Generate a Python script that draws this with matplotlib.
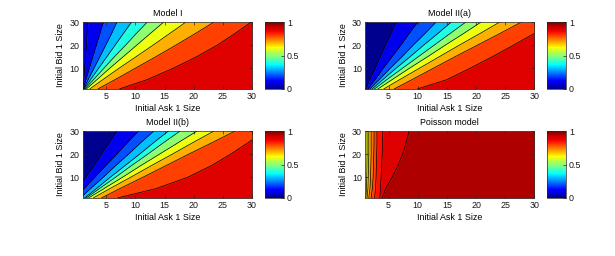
import numpy as np
import matplotlib
matplotlib.use("Agg")
import matplotlib.pyplot as plt
from matplotlib.colors import ListedColormap, Normalize
from matplotlib.cm import ScalarMappable

plt.rcParams['font.family'] = ['Liberation Sans', 'DejaVu Sans']
plt.rcParams['font.size'] = 6.4

bid_rows = [1, 5, 10, 15, 20, 25, 30]
ask_limits = [1, 30]
bid_limits = [1, 30]

# Model I: contour levels, lowest value, ask size of each level at each bid row
model1_levels = [0.1, 0.2, 0.3, 0.4, 0.5, 0.6, 0.7, 0.8, 0.9]
model1_min = 0.07
model1_ask = [
    [1.0, 1.15, 1.3, 1.45, 1.6, 1.7, 1.85],
    [1.05, 1.5, 2.1, 2.7, 3.3, 3.9, 4.5],
    [1.1, 1.9, 2.9, 3.9, 4.9, 5.9, 6.8],
    [1.2, 2.3, 3.7, 5.1, 6.5, 7.9, 9.3],
    [1.35, 2.8, 4.6, 6.4, 8.3, 10.1, 12.0],
    [1.6, 3.4, 5.6, 7.9, 10.2, 12.5, 14.8],
    [2.2, 4.4, 7.2, 10.1, 13.0, 15.8, 18.6],
    [3.6, 6.5, 10.0, 13.5, 16.9, 20.2, 23.4],
    [7.3, 12.0, 16.5, 20.5, 24.0, 27.0, 29.8],
]

# Model II(a)
model2a_levels = [0.1, 0.2, 0.3, 0.4, 0.5, 0.6, 0.7, 0.8, 0.9]
model2a_min = 0.0
model2a_ask = [
    [1.1, 1.8, 2.7, 3.6, 4.5, 5.4, 6.3],
    [1.5, 2.7, 4.1, 5.6, 7.1, 8.5, 10.0],
    [1.8, 3.4, 5.3, 7.3, 9.2, 11.2, 13.1],
    [2.2, 4.0, 6.3, 8.7, 11.0, 13.4, 15.7],
    [2.6, 4.7, 7.4, 10.1, 12.8, 15.5, 18.2],
    [3.2, 5.6, 8.6, 11.7, 14.7, 17.8, 20.8],
    [4.2, 6.9, 10.3, 13.7, 17.1, 20.6, 24.0],
    [6.0, 9.0, 12.7, 16.4, 20.2, 24.0, 27.7],
    [10.0, 15.0, 19.0, 22.8, 26.4, 29.9, 33.3],
]

# Model II(b)
model2b_levels = [0.1, 0.2, 0.3, 0.4, 0.5, 0.6, 0.7, 0.8, 0.9]
model2b_min = 0.0
model2b_ask = [
    [-0.85, 0.2, 1.5, 2.9, 4.2, 5.5, 6.8],
    [-0.3, 1.2, 3.05, 4.9, 6.8, 8.6, 10.5],
    [0.57, 2.3, 4.5, 6.6, 8.8, 10.9, 13.1],
    [1.3, 3.3, 5.7, 8.2, 10.7, 13.1, 15.6],
    [1.6, 3.8, 6.6, 9.3, 12.1, 14.8, 17.6],
    [2.0, 4.6, 7.8, 10.9, 14.1, 17.3, 20.5],
    [2.8, 5.6, 9.2, 12.7, 16.3, 19.8, 23.4],
    [4.2, 7.3, 11.3, 15.2, 19.1, 23.1, 27.0],
    [7.0, 13.5, 19.0, 23.0, 26.3, 29.3, 32.0],
]

# Poisson model
poisson_levels = [0.65, 0.7, 0.75, 0.8, 0.85, 0.9, 0.95]
poisson_min = 0.6
poisson_ask = [
    [1.1, 1.2, 1.25, 1.28, 1.3, 1.3, 1.3],
    [1.3, 1.45, 1.5, 1.55, 1.6, 1.6, 1.6],
    [1.6, 1.8, 1.9, 1.95, 2.0, 2.0, 2.0],
    [2.0, 2.2, 2.35, 2.4, 2.45, 2.5, 2.5],
    [2.6, 2.75, 2.85, 2.9, 2.95, 3.0, 3.0],
    [3.5, 3.6, 3.7, 3.8, 3.9, 3.95, 4.0],
    [3.9, 4.5, 5.6, 6.6, 7.4, 8.0, 8.5],
]


def matlab_jet(m=64):
    # same construction as MATLAB's jet(m)
    n = int(np.ceil(m / 4))
    u = np.concatenate([np.arange(1, n + 1) / n, np.ones(n - 1), np.arange(n, 0, -1) / n])
    g = int(np.ceil(n / 2)) - int(m % 4 == 1) + np.arange(1, len(u) + 1)
    r = g + n
    b = g - n
    J = np.zeros((m, 3))
    rr = r[r <= m]
    J[rr - 1, 0] = u[:len(rr)]
    gg = g[g <= m]
    J[gg - 1, 1] = u[:len(gg)]
    bb = b[b >= 1]
    J[bb - 1, 2] = u[len(u) - len(bb):]
    return ListedColormap(J)


jet = matlab_jet(64)
edge = '#262626'


def draw_panel(ax, cax, levels, ask_lines, zmin, title):
    lines = [np.array(l, dtype=float) for l in ask_lines]
    bounds = [np.minimum(lines[0], ask_limits[0])] + lines + [np.maximum(lines[-1], ask_limits[1])]
    # each band gets the colour of its lower level (MATLAB contourf style)
    band_values = [zmin] + list(levels)
    for k, v in enumerate(band_values):
        c = jet(v)
        ax.fill_betweenx(bid_rows, bounds[k], bounds[k + 1], color=c, lw=0.3, edgecolor=c)
    for l in lines:
        ax.plot(l, bid_rows, color='k', lw=0.5)
    ax.set_xlim(ask_limits)
    ax.set_ylim(bid_limits)
    ax.set_xticks([5, 10, 15, 20, 25, 30])
    ax.set_yticks([10, 20, 30])
    ax.tick_params(direction='in', length=2.5, width=0.5, top=True, right=True,
                   labelsize=6.4, pad=2.5, colors=edge, labelcolor='#1a1a1a')
    for s in ax.spines.values():
        s.set_linewidth(0.5)
        s.set_color(edge)
    ax.set_title(title, fontsize=6.4, pad=4.5)
    ax.set_xlabel('Initial Ask 1 Size', fontsize=6.4, labelpad=2)
    ax.set_ylabel('Initial Bid 1 Size', fontsize=6.4, labelpad=3)

    cb = plt.colorbar(ScalarMappable(norm=Normalize(0, 1), cmap=jet), cax=cax, ticks=[0, 0.5, 1])
    cb.ax.set_yticklabels(['0', '0.5', '1'])
    cb.ax.tick_params(direction='in', length=2, width=0.5, labelsize=6.4, pad=2.5, colors=edge,
                      labelcolor='#1a1a1a')
    cb.outline.set_linewidth(0.5)
    cb.outline.set_edgecolor(edge)


W, H = 615.0, 256.0
fig = plt.figure(figsize=(6.15, 2.56), dpi=100)

panels = [
    (83, 22.3, 265, model1_levels, model1_ask, model1_min, 'Model I'),
    (365.3, 22.3, 547, model2a_levels, model2a_ask, model2a_min, 'Model II(a)'),
    (83, 131.3, 265, model2b_levels, model2b_ask, model2b_min, 'Model II(b)'),
    (365.3, 131.3, 547, poisson_levels, poisson_ask, poisson_min, 'Poisson model'),
]
for x0, y0, cx0, levels, asks, zmin, title in panels:
    ax = fig.add_axes([x0 / W, 1 - (y0 + 66.5) / H, 169 / W, 66.5 / H])
    cax = fig.add_axes([cx0 / W, 1 - (y0 + 66.5) / H, 18.5 / W, 66.5 / H])
    draw_panel(ax, cax, levels, asks, zmin, title)

fig.savefig('out.png', dpi=100)
